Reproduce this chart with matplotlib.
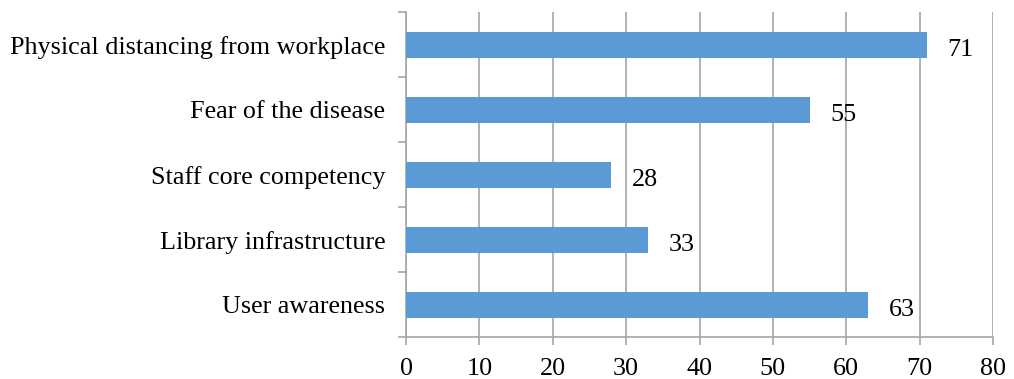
import matplotlib
matplotlib.use("Agg")
import matplotlib.pyplot as plt
import numpy as np

# Data (bottom to top as drawn)
categories = ["User awareness", "Library infrastructure", "Staff core competency",
              "Fear of the disease", "Physical distancing from workplace"]
values = [63, 33, 28, 55, 71]
x_ticks = [0, 10, 20, 30, 40, 50, 60, 70, 80]

plt.rcParams['font.family'] = ['Liberation Serif', 'DejaVu Serif']

fig = plt.figure(figsize=(10.14, 3.79), dpi=100)
ax = fig.add_axes([0.4004, 0.1108, 0.5789, 0.8575])

bar_color = "#5B9BD5"
grid_color = "#A6A6A6"
fs = 18.8

y = np.arange(len(categories))
ax.barh(y, values, height=0.4, color=bar_color, zorder=3)

for yi, v in zip(y, values):
    ax.text(v + 2.8, yi - 0.04, str(v), va="center_baseline", ha="left",
            fontsize=fs, color="black")

ax.set_xlim(0, 80)
ax.set_ylim(-0.5, len(categories) - 0.5)
ax.set_xticks(x_ticks)
ax.set_xticklabels([str(t) for t in x_ticks], fontsize=fs)

# category labels in the middle, tick marks at boundaries
ax.set_yticks(y)
ax.set_yticklabels(categories, fontsize=fs)
ax.set_yticks(np.arange(len(categories) + 1) - 0.5, minor=True)
ax.tick_params(axis="y", which="major", length=0, pad=15)
ax.tick_params(axis="y", which="minor", length=6, color=grid_color, width=1.2)
ax.tick_params(axis="x", length=6, color=grid_color, width=1.2, pad=9)

ax.grid(axis="x", color=grid_color, linewidth=1.2, zorder=0)
for side in ["top", "right"]:
    ax.spines[side].set_visible(False)
for side in ["left", "bottom"]:
    ax.spines[side].set_color(grid_color)
    ax.spines[side].set_linewidth(1.2)

fig.savefig("out.png", dpi=100)
